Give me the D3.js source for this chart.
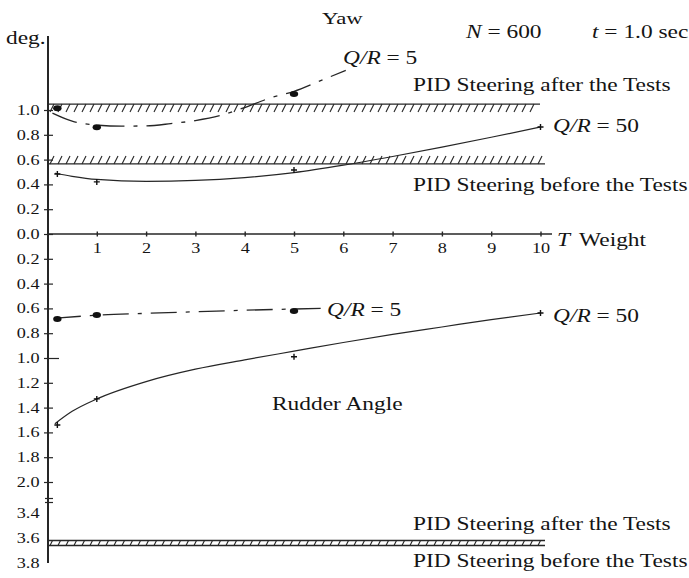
<!DOCTYPE html>
<html>
<head>
<meta charset="utf-8">
<script src="https://cdn.jsdelivr.net/npm/d3@7"></script>
<style>
  body { margin: 0; background: #fff; }
  svg { display: block; }
  text { font-family: "Liberation Serif", "Times New Roman", serif; fill: #141414; }
</style>
</head>
<body>
<svg id="chart" width="689" height="578"></svg>
<script>
// ---- data -------------------------------------------------------------
const weightTicks = [1, 2, 3, 4, 5, 6, 7, 8, 9, 10];
const yawTicks = [0.0, 0.2, 0.4, 0.6, 0.8, 1.0];
const rudderTicks = [0.2, 0.4, 0.6, 0.8, 1.0, 1.2, 1.4, 1.6, 1.8, 2.0];
const rudderBreakTicks = [3.4, 3.6, 3.8];

// Yaw (deg.) versus weight T
const yawQR5Curve = [[0.1, 0.975], [0.5, 0.91], [1, 0.878], [1.5, 0.87], [2, 0.872], [2.5, 0.89],
  [3, 0.915], [3.5, 0.955], [4, 1.02], [4.5, 1.095], [5, 1.15], [5.5, 1.23], [6.05, 1.32]];
const yawQR5Points = [[0.2, 1.015], [1, 0.86], [5, 1.13]];
const yawQR50Curve = [[0.15, 0.49], [0.5, 0.465], [1, 0.44], [2, 0.425], [3, 0.432], [4, 0.455],
  [5, 0.495], [6, 0.555], [7, 0.625], [8, 0.7], [9, 0.78], [10, 0.863]];
const yawQR50Points = [[0.2, 0.484], [1, 0.42], [5, 0.516], [10, 0.863]];

// Rudder angle (deg.) versus weight T
const rudderQR5Curve = [[0.15, 0.68], [1, 0.655], [2, 0.64], [3, 0.627], [4, 0.615], [5, 0.605], [5.6, 0.6]];
const rudderQR5Points = [[0.2, 0.685], [1, 0.653], [5, 0.62]];
const rudderQR50Curve = [[0.15, 1.53], [0.5, 1.43], [1, 1.33], [2, 1.19], [3, 1.09], [4, 1.015],
  [5, 0.945], [6, 0.875], [7, 0.81], [8, 0.75], [9, 0.69], [10, 0.637]];
const rudderQR50Points = [[0.2, 1.54], [1, 1.33], [5, 0.99], [10, 0.637]];

// PID reference levels
const yawAfterLevel = 1.048;
const yawBeforeLevel = 0.565;
const rudderAfterLevel = 3.62;
const rudderBeforeLevel = 3.66;

// ---- drawing ----------------------------------------------------------
const svg = d3.select("#chart");
const ink = "#262626";
const SX = 1.3; // horizontal stretch of the typeface
const LABEL = 18;
const TICK = 14;

const x = d3.scaleLinear().domain([0, 10]).range([47.5, 540.5]);
const yYaw = d3.scaleLinear().domain([0, 1]).range([234, 110]);
const yRud = d3.scaleLinear().domain([0, 2]).range([234, 482]);
const yRudBreak = d3.scaleLinear().domain([3.4, 3.8]).range([513, 563]);
const axisX = 48;

function label(px, py, parts, size, anchor) {
  const g = svg.append("g").attr("transform", `translate(${px},${py}) scale(${SX},1)`);
  const t = g.append("text").attr("font-size", size).attr("text-anchor", anchor || "start");
  parts.forEach(p => {
    const s = t.append("tspan").text(p[0]);
    if (p[1]) s.attr("font-style", "italic");
    if (p[2]) s.attr("dx", p[2]);
  });
  return t;
}

// Hatched reference band
function hatchBand(yLine, x0, x1, depth, lineTop, lineBottom) {
  const g = svg.append("g");
  const top = Math.min(yLine, yLine + depth), bot = Math.max(yLine, yLine + depth);
  const h = bot - top;
  g.selectAll("line.h").data(d3.range(x0 + 2, x1 - 3, 8)).join("line")
    .attr("x1", d => d).attr("y1", bot).attr("x2", d => d + h * 0.5).attr("y2", top)
    .attr("stroke", ink).attr("stroke-width", 1.1);
  if (lineTop) g.append("line").attr("x1", x0).attr("x2", x1).attr("y1", top).attr("y2", top)
    .attr("stroke", ink).attr("stroke-width", 1.3);
  if (lineBottom) g.append("line").attr("x1", x0).attr("x2", x1).attr("y1", bot).attr("y2", bot)
    .attr("stroke", ink).attr("stroke-width", 1.3);
}

hatchBand(yYaw(yawAfterLevel), axisX, 540, 8, true, false);
hatchBand(yYaw(yawBeforeLevel), axisX, 545, -8, false, true);
hatchBand(yRudBreak(rudderAfterLevel), axisX, 545, yRudBreak(rudderBeforeLevel) - yRudBreak(rudderAfterLevel), true, true);

// Vertical axis line
svg.append("line").attr("x1", axisX).attr("x2", axisX).attr("y1", 36).attr("y2", 563)
  .attr("stroke", ink).attr("stroke-width", 2);

// Horizontal T axis
svg.append("line").attr("x1", axisX).attr("x2", 552).attr("y1", yYaw(0)).attr("y2", yYaw(0))
  .attr("stroke", ink).attr("stroke-width", 1.3);

function styleTickText(g) {
  g.selectAll(".tick text")
    .attr("x", -8.5 / SX).attr("transform", `scale(${SX},1)`)
    .attr("font-size", TICK).attr("fill", "#141414")
    .attr("font-family", '"Liberation Serif", serif');
}
function styleLeftAxis(g, longTick) {
  g.select(".domain").remove();
  g.selectAll(".tick line").remove();
  g.selectAll(".tick").append("line")
    .attr("x1", -4).attr("x2", d => (longTick && longTick(d)) ? 11 : 5)
    .attr("stroke", ink).attr("stroke-width", 1.2);
  styleTickText(g);
}

svg.append("g").attr("transform", `translate(${axisX},0)`)
  .call(d3.axisLeft(yYaw).tickValues(yawTicks).tickFormat(d3.format(".1f")).tickSize(0))
  .call(g => styleLeftAxis(g));
svg.append("g").attr("transform", `translate(${axisX},0)`)
  .call(d3.axisLeft(yRud).tickValues(rudderTicks).tickFormat(d3.format(".1f")).tickSize(0))
  .call(g => styleLeftAxis(g, d => Math.abs(d - 1.0) < 1e-9));
svg.append("g").attr("transform", `translate(${axisX},0)`)
  .call(d3.axisLeft(yRudBreak).tickValues(rudderBreakTicks).tickFormat(d3.format(".1f")).tickSize(0))
  .call(g => { g.select(".domain").remove(); g.selectAll(".tick line").remove(); styleTickText(g); });

// Axis break marks
[498.5, 502.5].forEach(yy => svg.append("line").attr("x1", axisX - 3).attr("x2", axisX + 5)
  .attr("y1", yy).attr("y2", yy).attr("stroke", ink).attr("stroke-width", 1.2));

// T axis ticks and labels
const xAxis = svg.append("g").attr("transform", `translate(0,${yYaw(0)})`)
  .call(d3.axisBottom(x).tickValues(weightTicks).tickFormat(d3.format("d")).tickSize(0).tickPadding(0));
xAxis.select(".domain").remove();
xAxis.selectAll(".tick").append("line").attr("y1", -2.5).attr("y2", 2.5).attr("stroke", ink).attr("stroke-width", 1.4);
xAxis.selectAll(".tick text").attr("dy", null).attr("y", 19).attr("transform", `scale(${SX},1)`)
  .attr("font-size", TICK).attr("fill", "#141414").attr("font-family", '"Liberation Serif", serif');

// Curves
const yawLine = d3.line().x(d => x(d[0])).y(d => yYaw(d[1])).curve(d3.curveMonotoneX);
const rudLine = d3.line().x(d => x(d[0])).y(d => yRud(d[1])).curve(d3.curveMonotoneX);
const dashDot = "26,9,4,9";

svg.append("path").attr("d", yawLine(yawQR5Curve)).attr("fill", "none")
  .attr("stroke", ink).attr("stroke-width", 1.3).attr("stroke-dasharray", dashDot);
svg.append("path").attr("d", yawLine(yawQR50Curve)).attr("fill", "none")
  .attr("stroke", ink).attr("stroke-width", 1.2);
svg.append("path").attr("d", rudLine(rudderQR5Curve)).attr("fill", "none")
  .attr("stroke", ink).attr("stroke-width", 1.3).attr("stroke-dasharray", dashDot);
svg.append("path").attr("d", rudLine(rudderQR50Curve)).attr("fill", "none")
  .attr("stroke", ink).attr("stroke-width", 1.2);

// Measured points
function dots(data, yScale) {
  svg.append("g").selectAll("ellipse").data(data).join("ellipse")
    .attr("cx", d => x(d[0])).attr("cy", d => yScale(d[1]))
    .attr("rx", 4.2).attr("ry", 3).attr("fill", "#111");
}
function crosses(data, yScale) {
  svg.append("g").selectAll("path").data(data).join("path")
    .attr("d", d => { const cx = x(d[0]), cy = yScale(d[1]);
      return `M${cx - 3},${cy}H${cx + 3}M${cx},${cy - 3}V${cy + 3}`; })
    .attr("stroke", "#111").attr("stroke-width", 1.4);
}
dots(yawQR5Points, yYaw);
crosses(yawQR50Points, yYaw);
dots(rudderQR5Points, yRud);
crosses(rudderQR50Points, yRud);

// Text annotations
label(6, 44, [["deg."]], LABEL);
label(322, 24, [["Yaw"]], 17.5);
label(466, 38, [["N", true], [" = 600"]], LABEL);
label(592, 38, [["t", true], [" = 1.0 sec"]], LABEL);
label(343, 64, [["Q/R", true], [" = 5"]], LABEL);
label(413, 91, [["PID Steering after the Tests"]], LABEL);
label(553, 132, [["Q/R", true], [" = 50"]], LABEL);
label(413, 191, [["PID Steering before the Tests"]], LABEL);
label(557, 246, [["T", true], ["Weight", false, 7]], LABEL);
label(327, 316, [["Q/R", true], [" = 5"]], LABEL);
label(553, 322, [["Q/R", true], [" = 50"]], LABEL);
label(272, 410, [["Rudder Angle"]], LABEL);
label(413, 530, [["PID Steering after the Tests"]], LABEL);
label(413, 567, [["PID Steering before the Tests"]], LABEL);
</script>
</body>
</html>
